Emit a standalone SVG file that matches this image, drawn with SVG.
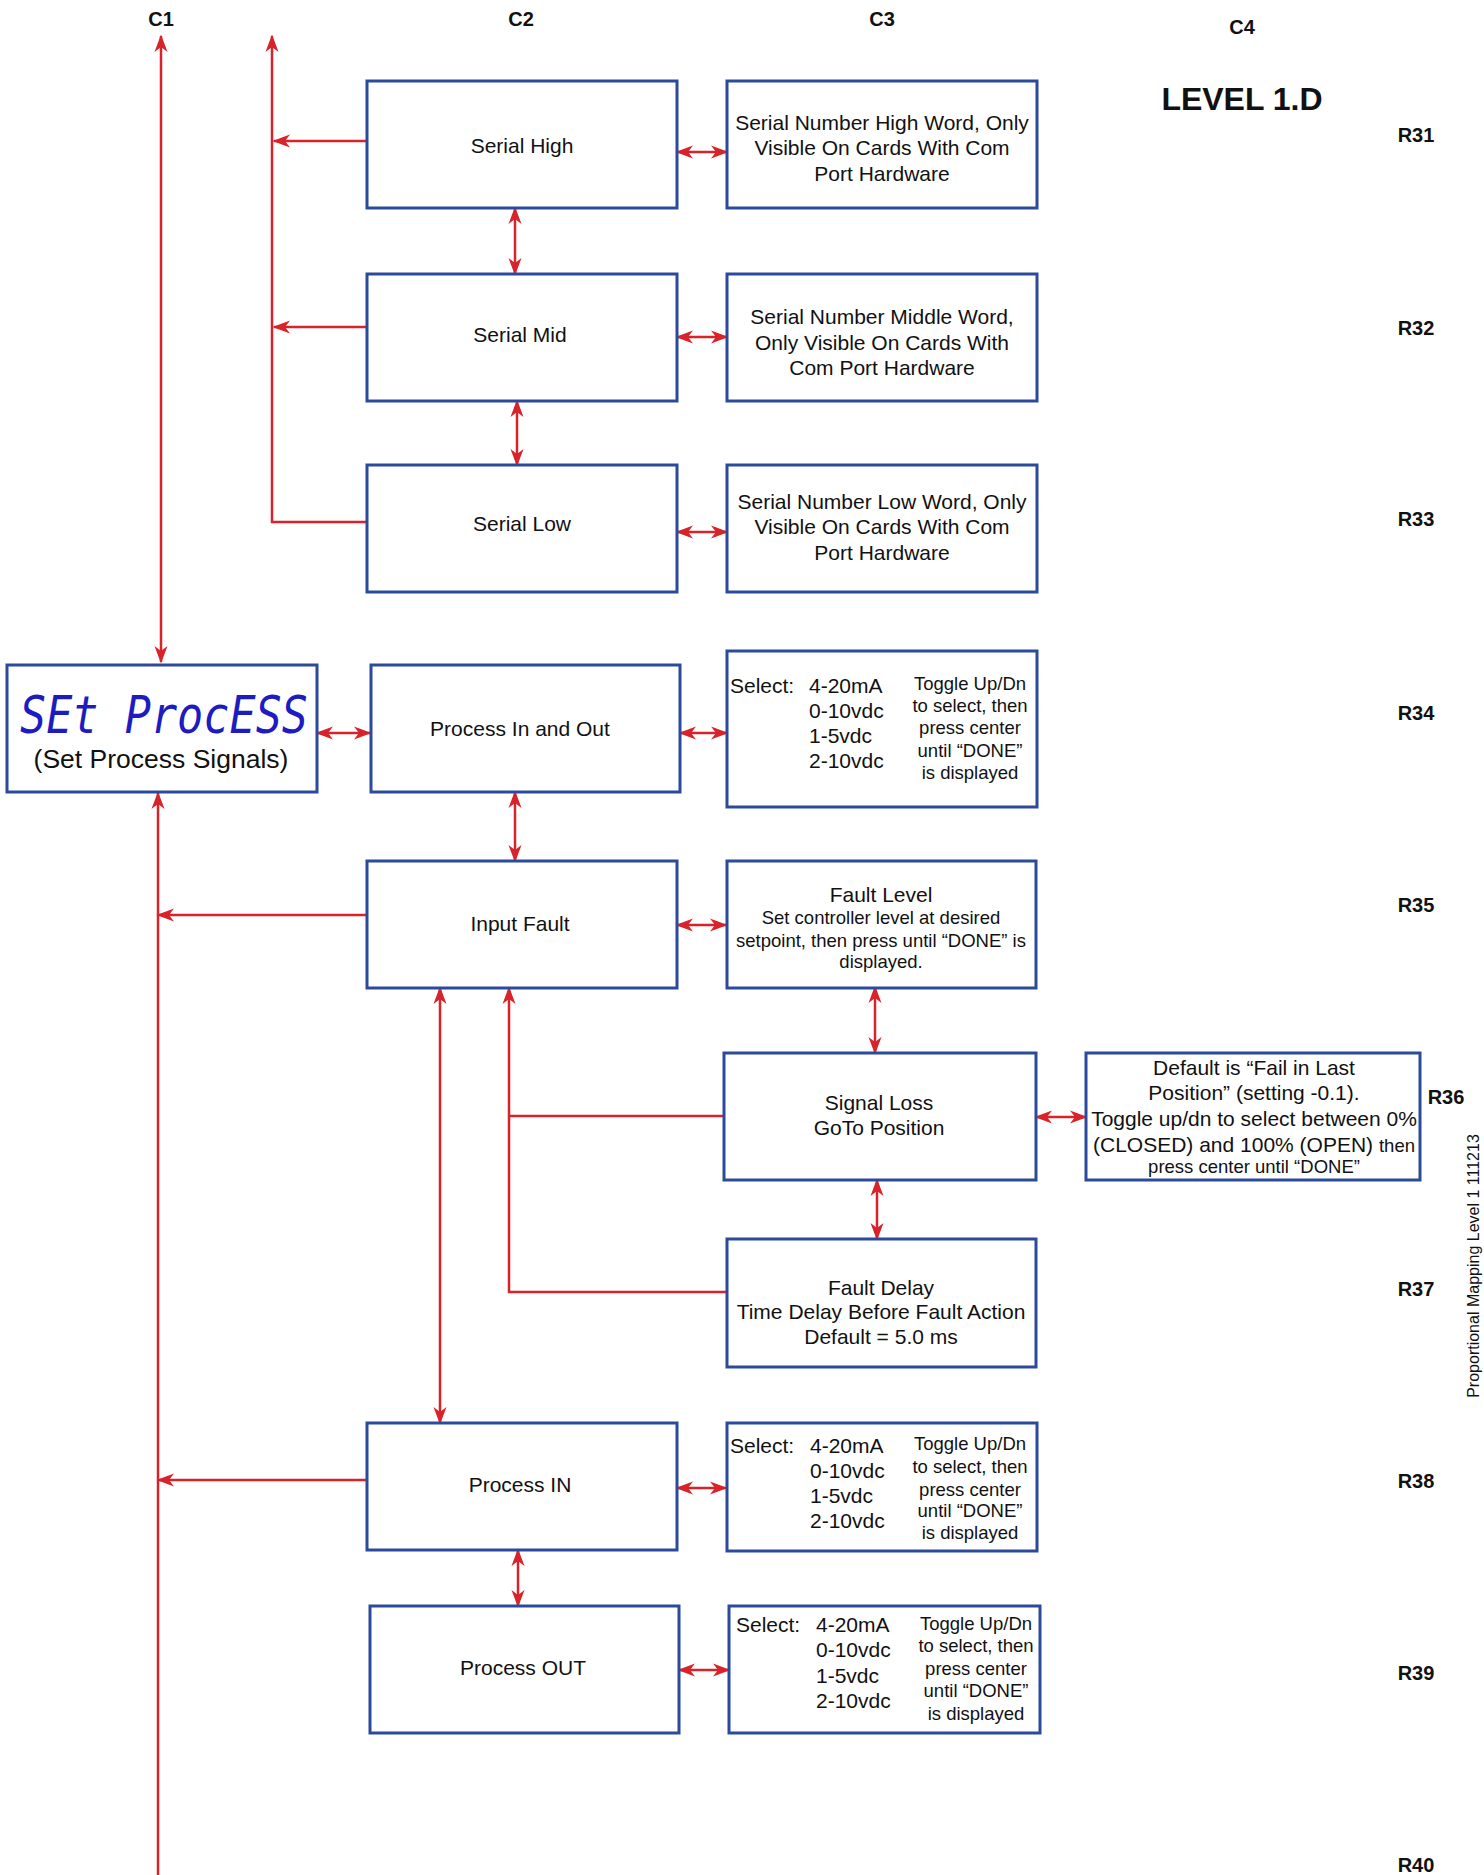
<svg xmlns="http://www.w3.org/2000/svg" width="1484" height="1875" viewBox="0 0 1484 1875">
<style>
.bx{fill:#fff;stroke:#2b4a9c;stroke-width:3}
.cn{fill:none;stroke:#d8232a;stroke-width:2.5}
text{font-family:"Liberation Sans",Arial,sans-serif;fill:#111}
.t{font-size:21px;text-anchor:middle}
.s{font-size:18.5px;text-anchor:middle}
.l{font-size:21px;text-anchor:start}
.h{font-size:20px;font-weight:bold;text-anchor:middle}
.seg{font-family:"DejaVu Sans Mono",monospace;font-style:italic;font-size:52px;fill:#1c1cc0}
</style>
<defs>
<marker id="ah" markerUnits="userSpaceOnUse" markerWidth="22" markerHeight="16" viewBox="-18 -8 22 16" refX="0" refY="0" orient="auto-start-reverse">
<path d="M1.5,0 L-16,-6.5 L-11,0 L-16,6.5 Z" fill="#d8232a"/>
</marker>
</defs>

<g id="headers">
<text class="h" x="161" y="26">C1</text>
<text class="h" x="521" y="26">C2</text>
<text class="h" x="882" y="26">C3</text>
<text class="h" x="1242" y="34">C4</text>
<text x="1242" y="110" style="font-size:32px;font-weight:bold;text-anchor:middle">LEVEL 1.D</text>
<text class="h" x="1416" y="142">R31</text>
<text class="h" x="1416" y="335">R32</text>
<text class="h" x="1416" y="526">R33</text>
<text class="h" x="1416" y="720">R34</text>
<text class="h" x="1416" y="912">R35</text>
<text class="h" x="1446" y="1104">R36</text>
<text class="h" x="1416" y="1296">R37</text>
<text class="h" x="1416" y="1488">R38</text>
<text class="h" x="1416" y="1680">R39</text>
<text class="h" x="1416" y="1872">R40</text>
<text transform="translate(1479,1266) rotate(-90)" style="font-size:16px;text-anchor:middle">Proportional Mapping Level 1 111213</text>
</g>

<g id="connectors">
<path class="cn" d="M161,662 V36" marker-start="url(#ah)" marker-end="url(#ah)"/>
<path class="cn" d="M367,522 H272 V36" marker-end="url(#ah)"/>
<path class="cn" d="M367,141 H274" marker-end="url(#ah)"/>
<path class="cn" d="M367,327 H274" marker-end="url(#ah)"/>
<path class="cn" d="M515,208 V274" marker-start="url(#ah)" marker-end="url(#ah)"/>
<path class="cn" d="M517,401 V465" marker-start="url(#ah)" marker-end="url(#ah)"/>
<path class="cn" d="M677,152 H727" marker-start="url(#ah)" marker-end="url(#ah)"/>
<path class="cn" d="M677,337 H727" marker-start="url(#ah)" marker-end="url(#ah)"/>
<path class="cn" d="M677,532 H727" marker-start="url(#ah)" marker-end="url(#ah)"/>
<path class="cn" d="M680,733 H727" marker-start="url(#ah)" marker-end="url(#ah)"/>
<path class="cn" d="M317,733 H370" marker-start="url(#ah)" marker-end="url(#ah)"/>
<path class="cn" d="M515,792 V861" marker-start="url(#ah)" marker-end="url(#ah)"/>
<path class="cn" d="M367,915 H158" marker-end="url(#ah)"/>
<path class="cn" d="M158,1875 V793" marker-end="url(#ah)"/>
<path class="cn" d="M677,925 H726" marker-start="url(#ah)" marker-end="url(#ah)"/>
<path class="cn" d="M875,987 V1053" marker-start="url(#ah)" marker-end="url(#ah)"/>
<path class="cn" d="M877,1180 V1239" marker-start="url(#ah)" marker-end="url(#ah)"/>
<path class="cn" d="M1036,1117 H1086" marker-start="url(#ah)" marker-end="url(#ah)"/>
<path class="cn" d="M440,988 V1423" marker-start="url(#ah)" marker-end="url(#ah)"/>
<path class="cn" d="M726,1292 H509 V988" marker-end="url(#ah)"/>
<path class="cn" d="M724,1116 H509"/>
<path class="cn" d="M367,1480 H158" marker-end="url(#ah)"/>
<path class="cn" d="M677,1488 H726" marker-start="url(#ah)" marker-end="url(#ah)"/>
<path class="cn" d="M518,1550 V1606" marker-start="url(#ah)" marker-end="url(#ah)"/>
<path class="cn" d="M679,1670 H729" marker-start="url(#ah)" marker-end="url(#ah)"/>
</g>

<g id="serial-high">
<rect class="bx" x="367" y="81" width="310" height="127"/>
<text class="t" x="522" y="153">Serial High</text>
</g>
<g id="serial-high-info">
<rect class="bx" x="727" y="81" width="310" height="127"/>
<text class="t" x="882" y="130">Serial Number High Word, Only</text>
<text class="t" x="882" y="155">Visible On Cards With Com</text>
<text class="t" x="882" y="181">Port Hardware</text>
</g>

<g id="serial-mid">
<rect class="bx" x="367" y="274" width="310" height="127"/>
<text class="t" x="520" y="342">Serial Mid</text>
</g>
<g id="serial-mid-info">
<rect class="bx" x="727" y="274" width="310" height="127"/>
<text class="t" x="882" y="324">Serial Number Middle Word,</text>
<text class="t" x="882" y="350">Only Visible On Cards With</text>
<text class="t" x="882" y="375">Com Port Hardware</text>
</g>

<g id="serial-low">
<rect class="bx" x="367" y="465" width="310" height="127"/>
<text class="t" x="522" y="531">Serial Low</text>
</g>
<g id="serial-low-info">
<rect class="bx" x="727" y="465" width="310" height="127"/>
<text class="t" x="882" y="509">Serial Number Low Word, Only</text>
<text class="t" x="882" y="534">Visible On Cards With Com</text>
<text class="t" x="882" y="560">Port Hardware</text>
</g>

<g id="set-process">
<rect class="bx" x="7" y="665" width="310" height="127"/>
<text class="seg" x="20" y="733" textLength="288" lengthAdjust="spacingAndGlyphs">SEt ProcESS</text>
<text x="161" y="768" style="font-size:26.5px;text-anchor:middle">(Set Process Signals)</text>
</g>

<g id="process-in-out">
<rect class="bx" x="371" y="665" width="309" height="127"/>
<text class="t" x="520" y="736">Process In and Out</text>
</g>
<g id="process-in-out-select">
<rect class="bx" x="727" y="651" width="310" height="156"/>
<text class="l" x="730" y="693">Select:</text>
<text class="l" x="809" y="693">4-20mA</text>
<text class="l" x="809" y="718">0-10vdc</text>
<text class="l" x="809" y="743">1-5vdc</text>
<text class="l" x="809" y="768">2-10vdc</text>
<text class="s" x="970" y="690">Toggle Up/Dn</text>
<text class="s" x="970" y="712">to select, then</text>
<text class="s" x="970" y="734">press center</text>
<text class="s" x="970" y="757">until “DONE”</text>
<text class="s" x="970" y="779">is displayed</text>
</g>

<g id="input-fault">
<rect class="bx" x="367" y="861" width="310" height="127"/>
<text class="t" x="520" y="931">Input Fault</text>
</g>
<g id="fault-level">
<rect class="bx" x="727" y="861" width="309" height="127"/>
<text class="t" x="881" y="902">Fault Level</text>
<text class="s" x="881" y="924">Set controller level at desired</text>
<text class="s" x="881" y="947">setpoint, then press until “DONE” is</text>
<text class="s" x="881" y="968">displayed.</text>
</g>

<g id="signal-loss">
<rect class="bx" x="724" y="1053" width="312" height="127"/>
<text class="t" x="879" y="1110">Signal Loss</text>
<text class="t" x="879" y="1135">GoTo Position</text>
</g>
<g id="signal-loss-default">
<rect class="bx" x="1086" y="1053" width="334" height="127"/>
<text class="t" x="1254" y="1075">Default is “Fail in Last</text>
<text class="t" x="1254" y="1100">Position” (setting -0.1).</text>
<text class="t" x="1254" y="1126">Toggle up/dn to select between 0%</text>
<text class="t" x="1254" y="1152">(CLOSED) and 100% (OPEN) <tspan style="font-size:18.5px">then</tspan></text>
<text class="s" x="1254" y="1173">press center until “DONE”</text>
</g>

<g id="fault-delay">
<rect class="bx" x="727" y="1239" width="309" height="128"/>
<text class="t" x="881" y="1295">Fault Delay</text>
<text class="t" x="881" y="1319">Time Delay Before Fault Action</text>
<text class="t" x="881" y="1344">Default = 5.0 ms</text>
</g>

<g id="process-in">
<rect class="bx" x="367" y="1423" width="310" height="127"/>
<text class="t" x="520" y="1492">Process IN</text>
</g>
<g id="process-in-select">
<rect class="bx" x="727" y="1423" width="310" height="128"/>
<text class="l" x="730" y="1453">Select:</text>
<text class="l" x="810" y="1453">4-20mA</text>
<text class="l" x="810" y="1478">0-10vdc</text>
<text class="l" x="810" y="1503">1-5vdc</text>
<text class="l" x="810" y="1528">2-10vdc</text>
<text class="s" x="970" y="1450">Toggle Up/Dn</text>
<text class="s" x="970" y="1473">to select, then</text>
<text class="s" x="970" y="1496">press center</text>
<text class="s" x="970" y="1517">until “DONE”</text>
<text class="s" x="970" y="1539">is displayed</text>
</g>

<g id="process-out">
<rect class="bx" x="370" y="1606" width="309" height="127"/>
<text class="t" x="523" y="1675">Process OUT</text>
</g>
<g id="process-out-select">
<rect class="bx" x="729" y="1606" width="311" height="127"/>
<text class="l" x="736" y="1632">Select:</text>
<text class="l" x="816" y="1632">4-20mA</text>
<text class="l" x="816" y="1657">0-10vdc</text>
<text class="l" x="816" y="1683">1-5vdc</text>
<text class="l" x="816" y="1708">2-10vdc</text>
<text class="s" x="976" y="1630">Toggle Up/Dn</text>
<text class="s" x="976" y="1652">to select, then</text>
<text class="s" x="976" y="1675">press center</text>
<text class="s" x="976" y="1697">until “DONE”</text>
<text class="s" x="976" y="1720">is displayed</text>
</g>
</svg>
